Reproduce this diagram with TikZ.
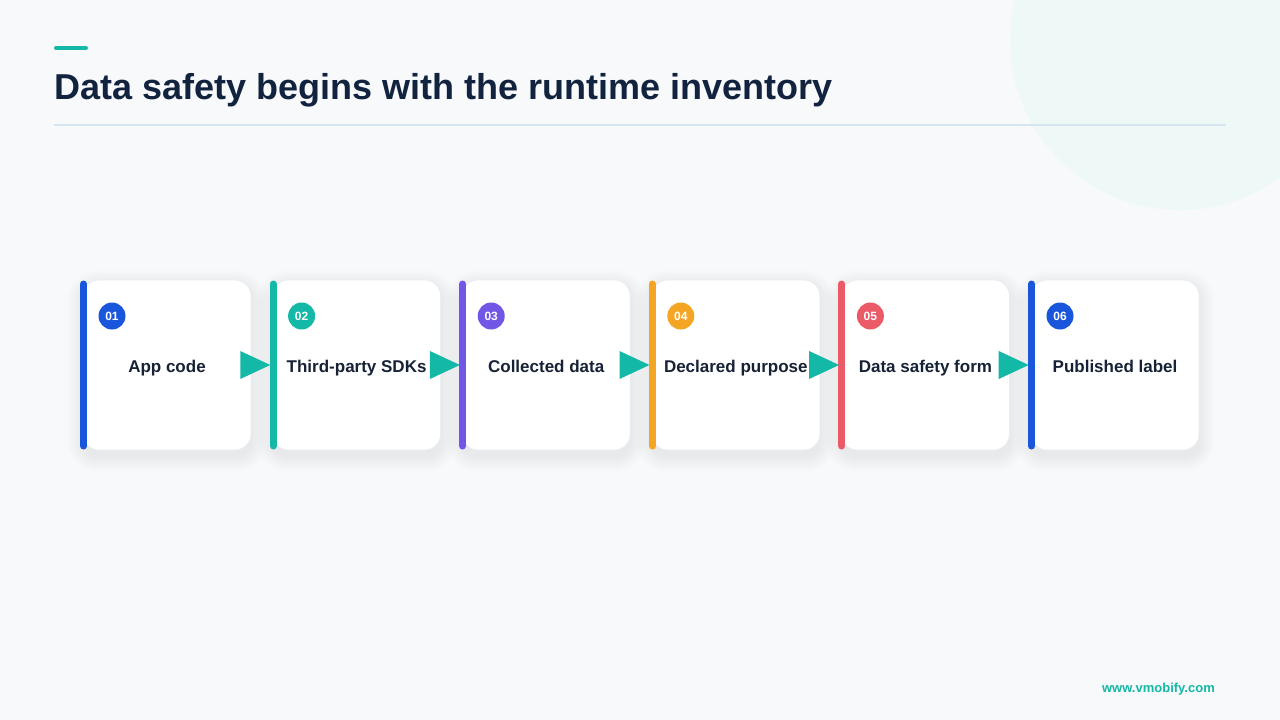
\documentclass[tikz,border=0pt]{standalone}
\usepackage{fontspec}
\setmainfont{Liberation Sans}
\usetikzlibrary{calc}
\definecolor{bgc}{HTML}{F7F9FB}
\definecolor{mint}{HTML}{EEF8F6}
\definecolor{navy}{HTML}{12233F}
\definecolor{txt}{HTML}{172236}
\definecolor{sep}{HTML}{D6E6F0}
\definecolor{tealc}{HTML}{14B8A6}
\definecolor{bluec}{HTML}{1A56DB}
\definecolor{purplec}{HTML}{7257E6}
\definecolor{orangec}{HTML}{F5A524}
\definecolor{redc}{HTML}{EA5B67}
\definecolor{cardedge}{HTML}{E8ECF1}
\definecolor{shadec}{HTML}{1E2A4A}
\pgfdeclarelayer{shadowlayer}
\pgfsetlayers{shadowlayer,main}
\tikzset{
  cardbox/.style={rectangle, rounded corners=16pt, fill=white, draw=cardedge, line width=0.6pt,
    minimum width=168pt, minimum height=170pt, inner sep=0pt},
  cardlabel/.style={inner sep=0pt, anchor=base, text=txt, font=\fontsize{17}{20}\selectfont\bfseries},
  accentbar/.style={line width=7pt, line cap=round},
  numdot/.style={circle, minimum size=27pt, inner sep=0pt, text=white,
    font=\fontsize{12}{14}\selectfont\bfseries},
  flowtip/.style={fill=tealc},
  softshade/.style={fill=shadec, opacity=0.0042},
}
\begin{document}
\begin{tikzpicture}[x=1pt,y=-1pt]
\useasboundingbox (0,0) rectangle (1280,720);
\begin{pgfonlayer}{shadowlayer}
\fill[bgc] (0,0) rectangle (1280,720);
\begin{scope}
\clip (0,0) rectangle (1280,720);
\fill[mint] (1180,40) circle (170);
\end{scope}
\end{pgfonlayer}
% header
\draw[tealc, line width=4pt, line cap=round] (56,48) -- (86,48);
\node[anchor=base west, inner sep=0pt, text=navy, font=\fontsize{36}{42}\selectfont\bfseries] (title) at (54,99) {Data safety begins with the runtime inventory};
\draw[sep, line width=1.2pt] (54,125) -- (1226,125);
% cards
\foreach \i/\lab/\col in {1/App code/bluec, 2/Third-party SDKs/tealc, 3/Collected data/purplec, 4/Declared purpose/orangec, 5/Data safety form/redc, 6/Published label/bluec}{
  \pgfmathsetmacro{\xl}{80+189.6*(\i-1)}
  \node[cardbox] (c\i) at (\xl+3+84,365) {};
  \begin{pgfonlayer}{shadowlayer}
    \foreach \k in {1,...,16}{
      \fill[softshade, rounded corners=16pt+\k pt] ($(c\i.south west)+(-\k,\k+6)$) rectangle ($(c\i.north east)+(\k,-\k+6)$);
    }
  \end{pgfonlayer}
  \node[cardlabel] (t\i) at ($(c\i.center)+(0,7)$) {\lab};
  \coordinate (bt\i) at (\xl+3.5,284);
  \coordinate (bb\i) at (\xl+3.5,446);
  \draw[accentbar, \col] (bt\i) -- (bb\i);
  \node[numdot, fill=\col] (n\i) at (\xl+32,316) {0\i};
}
% flow arrows
\foreach \i [evaluate=\i as \j using int(\i+1)] in {1,...,5}{
  \fill[flowtip] ($(c\i.east)+(-11,-14)$) -- ($(c\j.west)+(-2,0)$) -- ($(c\i.east)+(-11,14)$) -- cycle;
}
% footer
\node[anchor=base east, inner sep=0pt, text=tealc, font=\fontsize{13}{15}\selectfont\bfseries] (foot) at (1215,692) {www.vmobify.com};
\end{tikzpicture}
\end{document}
